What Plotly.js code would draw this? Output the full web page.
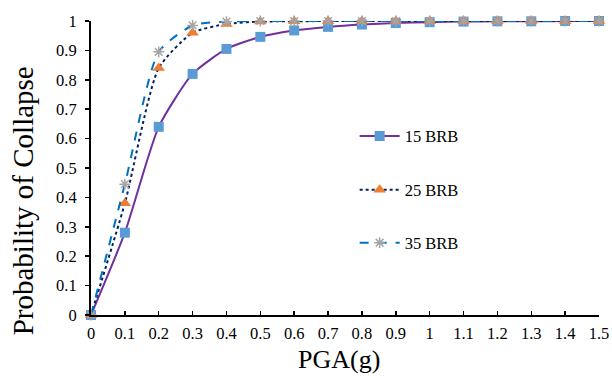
<!DOCTYPE html>
<html><head><meta charset="utf-8">
<script src="https://cdn.plot.ly/plotly-3.0.1.min.js"></script>
<style>html,body{margin:0;padding:0;background:#fff}</style>
</head><body>
<div id="chart" style="width:612px;height:376px"></div>
<script>
const pga = [0,0.1,0.2,0.3,0.4,0.5,0.6,0.7,0.8,0.9,1.0,1.1,1.2,1.3,1.4,1.5];
const brb15 = [0,0.28,0.64,0.82,0.905,0.946,0.968,0.98,0.988,0.993,0.996,0.998,0.999,0.999,1,1];
const brb25 = [0,0.38,0.84,0.96,0.99,0.998,0.999,1,1,1,1,1,1,1,1,1];
const brb35 = [0,0.445,0.895,0.985,0.998,1,1,1,1,1,1,1,1,1,1,1];
const names = ['15 BRB','25 BRB','35 BRB'];
const xTicks = ['0','0.1','0.2','0.3','0.4','0.5','0.6','0.7','0.8','0.9','1','1.1','1.2','1.3','1.4','1.5'];
const yTicks = ['0','0.1','0.2','0.3','0.4','0.5','0.6','0.7','0.8','0.9','1'];
const xTitle = 'PGA(g)';
const yTitle = 'Probability of Collapse';

const FONT = '"Liberation Serif", "Times New Roman", serif';
const traces = [
  {x:pga,y:brb15,name:names[0],mode:'lines+markers',line:{color:'#7030A0',width:2,shape:'spline',smoothing:0.6},
   marker:{symbol:'square',size:10,color:'#5B9BD5'},cliponaxis:false,legend:'legend'},
  {x:pga,y:brb25,name:names[1],mode:'lines+markers',line:{color:'#002060',width:2,dash:'dot',shape:'spline',smoothing:0.6},
   marker:{symbol:'triangle-up',size:11,color:'#ED7D31'},cliponaxis:false,legend:'legend2'},
  {x:pga,y:brb35,name:names[2],mode:'lines+markers',line:{color:'#0070C0',width:2,dash:'dash',shape:'spline',smoothing:0.6},
   marker:{symbol:'asterisk-open',size:9,color:'#A5A5A5',line:{color:'#A5A5A5',width:1.5}},cliponaxis:false,legend:'legend3'}
];
const lf = {family:FONT,size:16.5,color:'#000'};
const legBase = {x:0.519,xanchor:'left',yanchor:'middle',bgcolor:'rgba(0,0,0,0)',font:lf,itemwidth:40};
const layout = {
  width:612,height:376,
  margin:{l:91,r:13,t:21,b:61},
  paper_bgcolor:'#fff',plot_bgcolor:'#fff',
  font:{family:FONT,color:'#000'},
  xaxis:{range:[0,1.5],tickvals:pga,ticktext:xTicks,showgrid:false,zeroline:false,
    showline:true,linecolor:'#000',linewidth:2,ticks:'inside',ticklen:4,tickwidth:1.5,tickcolor:'#000',
    ticklabelstandoff:2,tickfont:{family:FONT,size:16.5,color:'#000'}},
  yaxis:{range:[0,1],tickvals:yTicks.map(Number),ticktext:yTicks,showgrid:false,zeroline:false,
    showline:true,linecolor:'#000',linewidth:2,ticks:'outside',ticklen:4,tickwidth:1.5,tickcolor:'#000',
    ticklabelstandoff:5,tickfont:{family:FONT,size:16.5,color:'#000'}},
  annotations:[
    {text:xTitle,xref:'paper',yref:'paper',x:0.4887,y:-0.153,xanchor:'center',yanchor:'middle',showarrow:false,
     font:{family:FONT,size:26,color:'#000'}},
    {text:yTitle,xref:'paper',yref:'paper',x:-0.1337,y:0.387,xanchor:'center',yanchor:'middle',showarrow:false,textangle:-90,
     font:{family:FONT,size:29,color:'#000'}}
  ],
  legend:Object.assign({},legBase,{y:0.608}),
  legend2:Object.assign({},legBase,{y:0.425}),
  legend3:Object.assign({},legBase,{y:0.245}),
  showlegend:true
};
Plotly.newPlot('chart',traces,layout,{displayModeBar:false,staticPlot:true});
</script>
</body></html>
